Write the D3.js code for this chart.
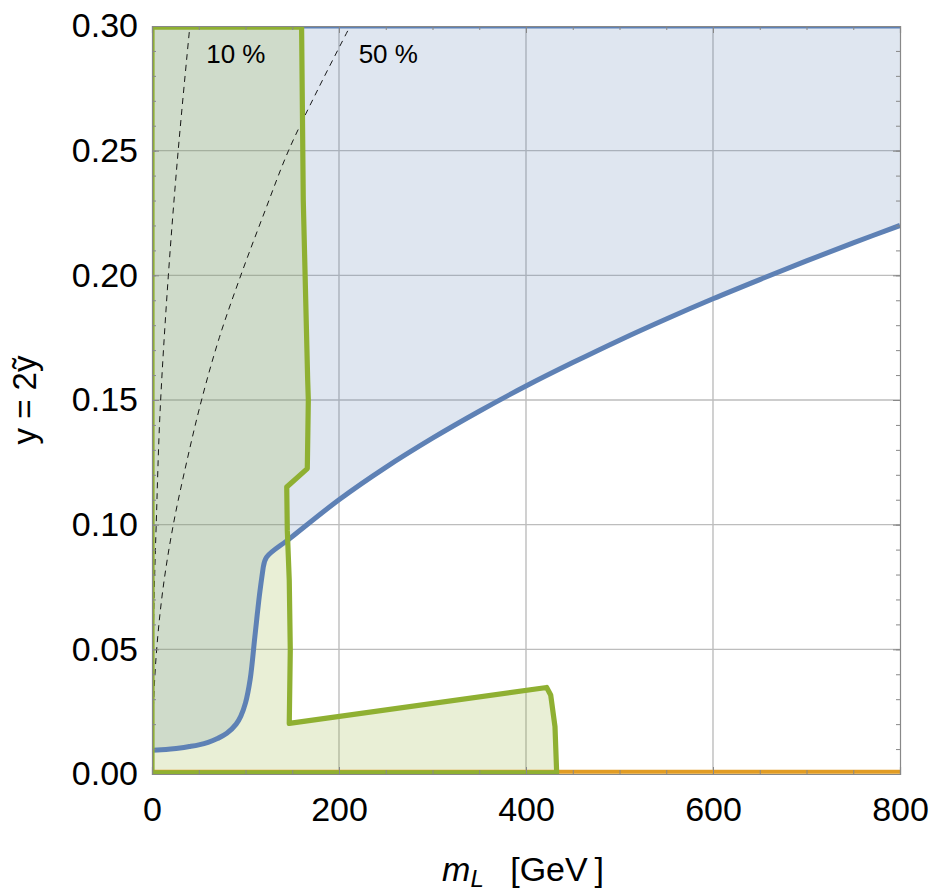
<!DOCTYPE html>
<meta charset="utf-8">
<style>
body { margin: 0; background: #fff; }
text { font-family: "Liberation Sans", Arial, sans-serif; fill: #000; }
.frame path.domain { stroke: #888; }
.frame .tick line { stroke: #888; }
</style>
<svg width="938" height="896"></svg>
<script src="https://d3js.org/d3.v7.min.js"></script>
<script>
// axis ticks
const xTicks = [0, 200, 400, 600, 800]
const yTicks = [0, 0.05, 0.10, 0.15, 0.20, 0.25, 0.30]
const xMinor = d3.range(0, 801, 50)
const yMinor = d3.range(0, 0.3001, 0.01)

// blue region lower boundary (m_L, y), filled up to y = 0.30
// steep low-mass branch, then the upper branch after the kink
const blueLowM = [0, 10, 20, 30, 40, 50, 60, 70, 80, 90, 95, 100, 105, 110, 115, 119]
const blueLowY = [0.0095, 0.0097, 0.0100, 0.0104, 0.0110, 0.0117, 0.0127, 0.0142, 0.0163, 0.0200, 0.0232, 0.0285, 0.038, 0.055, 0.072, 0.083]
const blueHighM = [119, 122.6, 148, 200, 250, 300, 350, 400, 450, 500, 550, 600, 650, 700, 750, 800]
const blueHighY = [0.083, 0.087, 0.0946, 0.110, 0.123, 0.1347, 0.1455, 0.1556, 0.165, 0.174, 0.1825, 0.1906, 0.1983, 0.2058, 0.213, 0.220]

// green excluded region outline
const greenM = [0, 0, 160, 161.8, 166.5, 167.2, 166.1, 144.1, 144.7, 146.8, 147.9, 146.8, 422.1, 426.4, 431, 432.8]
const greenY = [0.0005, 0.2995, 0.2995, 0.230, 0.158, 0.150, 0.1225, 0.1151, 0.0978, 0.0777, 0.0497, 0.0203, 0.0347, 0.0317, 0.019, 0.0005]

// orange bound along the bottom
const orangeM = [0, 800]
const orangeY = [0.0009, 0.0009]

// dashed contours
const c10M = [0, 0.5, 1.1, 2.5, 4.5, 8.6, 17.5, 28, 40.5]
const c10Y = [0, 0.03, 0.05, 0.075, 0.10, 0.145, 0.20, 0.25, 0.30]
const c50M = [0, 1.3, 5, 12, 22.8, 37, 53, 72, 95, 120, 146, 178, 212]
const c50Y = [0, 0.025, 0.05, 0.075, 0.10, 0.125, 0.15, 0.175, 0.20, 0.225, 0.25, 0.275, 0.30]

const contourLabels = [
  {text: "10 %", m: 58, y: 0.2853},
  {text: "50 %", m: 221, y: 0.2853}
]

const blue = "#5e81b5", green = "#8fb032", orange = "#e19c24"

const svg = d3.select("svg")
const x = d3.scaleLinear().domain([0, 800]).range([152, 900])
const y = d3.scaleLinear().domain([0, 0.30]).range([774, 26])

const zip = (ms, ys) => ms.map((m, i) => [m, ys[i]])
const line = d3.line().x(d => x(d[0])).y(d => y(d[1]))
const smooth = d3.line().x(d => x(d[0])).y(d => y(d[1])).curve(d3.curveCatmullRom)

svg.append("clipPath").attr("id", "clip")
  .append("rect")
    .attr("x", x(0)).attr("y", y(0.30))
    .attr("width", x(800) - x(0)).attr("height", y(0) - y(0.30))

// grid lines
const grid = svg.append("g")
grid.selectAll(".gx").data(xTicks.slice(1, -1)).join("line")
    .attr("x1", d => x(d)).attr("x2", d => x(d))
    .attr("y1", y(0)).attr("y2", y(0.30))
    .attr("stroke", "#bdbdbd").attr("stroke-width", 1.4)
grid.selectAll(".gy").data(yTicks.slice(1, -1)).join("line")
    .attr("y1", d => y(d)).attr("y2", d => y(d))
    .attr("x1", x(0)).attr("x2", x(800))
    .attr("stroke", "#bdbdbd").attr("stroke-width", 1.4)

const plot = svg.append("g").attr("clip-path", "url(#clip)")

const blueLow = zip(blueLowM, blueLowY)
const blueHigh = zip(blueHighM, blueHighY)
const greenPts = zip(greenM, greenY)

const bluePath = smooth(blueLow) + smooth(blueHigh).replace(/^M/, "L")

// fills
plot.append("path")
    .attr("d", bluePath + line([[800, 0.30], [0, 0.30]]).replace(/^M/, "L") + "Z")
    .attr("fill", blue).attr("fill-opacity", 0.2)
plot.append("path")
    .attr("d", line(greenPts) + "Z")
    .attr("fill", green).attr("fill-opacity", 0.2)

// dashed contours
;[zip(c10M, c10Y), zip(c50M, c50Y)].forEach(pts => {
  plot.append("path")
      .attr("d", smooth(pts))
      .attr("fill", "none")
      .attr("stroke", "#000")
      .attr("stroke-width", 0.9)
      .attr("stroke-dasharray", "6,5")
})

// orange
plot.append("path")
    .attr("d", line(zip(orangeM, orangeY)))
    .attr("fill", "none").attr("stroke", orange).attr("stroke-width", 4)

// blue boundary (curve + top edge)
plot.append("path")
    .attr("d", bluePath)
    .attr("fill", "none").attr("stroke", blue)
    .attr("stroke-width", 5).attr("stroke-linejoin", "round")
plot.append("path")
    .attr("d", line([[0, 0.30], [800, 0.30]]))
    .attr("fill", "none").attr("stroke", blue).attr("stroke-width", 5)

// green boundary
plot.append("path")
    .attr("d", line(greenPts) + "Z")
    .attr("fill", "none").attr("stroke", green)
    .attr("stroke-width", 5.2).attr("stroke-linejoin", "round")

// contour labels
svg.selectAll(".clabel").data(contourLabels).join("text")
    .attr("x", d => x(d.m)).attr("y", d => y(d.y))
    .attr("font-size", 26)
    .text(d => d.text)

// frame with inward ticks
function frame(axis, transform, minor, major, labels) {
  const gMinor = svg.append("g").attr("class", "frame").attr("transform", transform)
    .call(axis.tickValues(minor).tickSize(-4).tickFormat(""))
  gMinor.selectAll("path.domain").remove()
  const gMajor = svg.append("g").attr("class", "frame").attr("transform", transform)
    .call(axis.tickValues(major).tickSize(-7).tickPadding(16).tickFormat(labels))
  gMajor.selectAll("path.domain").attr("stroke-width", 1.2)
  return gMajor
}

const fx = d3.format(".0f"), fy = d3.format(".2f")
const bottom = frame(d3.axisBottom(x), `translate(0,${y(0)})`, xMinor, xTicks, fx)
bottom.selectAll(".tick text").attr("dy", "0.71em").attr("y", 23)
frame(d3.axisTop(x), `translate(0,${y(0.30)})`, xMinor, xTicks, () => "")
const left = frame(d3.axisLeft(y), `translate(${x(0)},0)`, yMinor, yTicks, fy)
left.selectAll(".tick text").attr("x", -14)
frame(d3.axisRight(y), `translate(${x(800)},0)`, yMinor, yTicks, () => "")
svg.selectAll(".frame .tick text").attr("font-size", 34).attr("fill", "#000")

// axis titles
const xt = svg.append("text")
    .attr("x", 523).attr("y", 881)
    .attr("text-anchor", "middle")
    .attr("font-size", 34)
xt.append("tspan").attr("font-style", "italic").text("m")
xt.append("tspan").attr("font-style", "italic").attr("font-size", 24).attr("dy", 6).text("L")
xt.append("tspan").attr("dy", -6).text("\u2002 [GeV\u2009]")

svg.append("text")
    .attr("transform", `translate(36,400) rotate(-90)`)
    .attr("text-anchor", "middle")
    .attr("font-size", 33)
    .text("y = 2\u1EF9")
</script>
